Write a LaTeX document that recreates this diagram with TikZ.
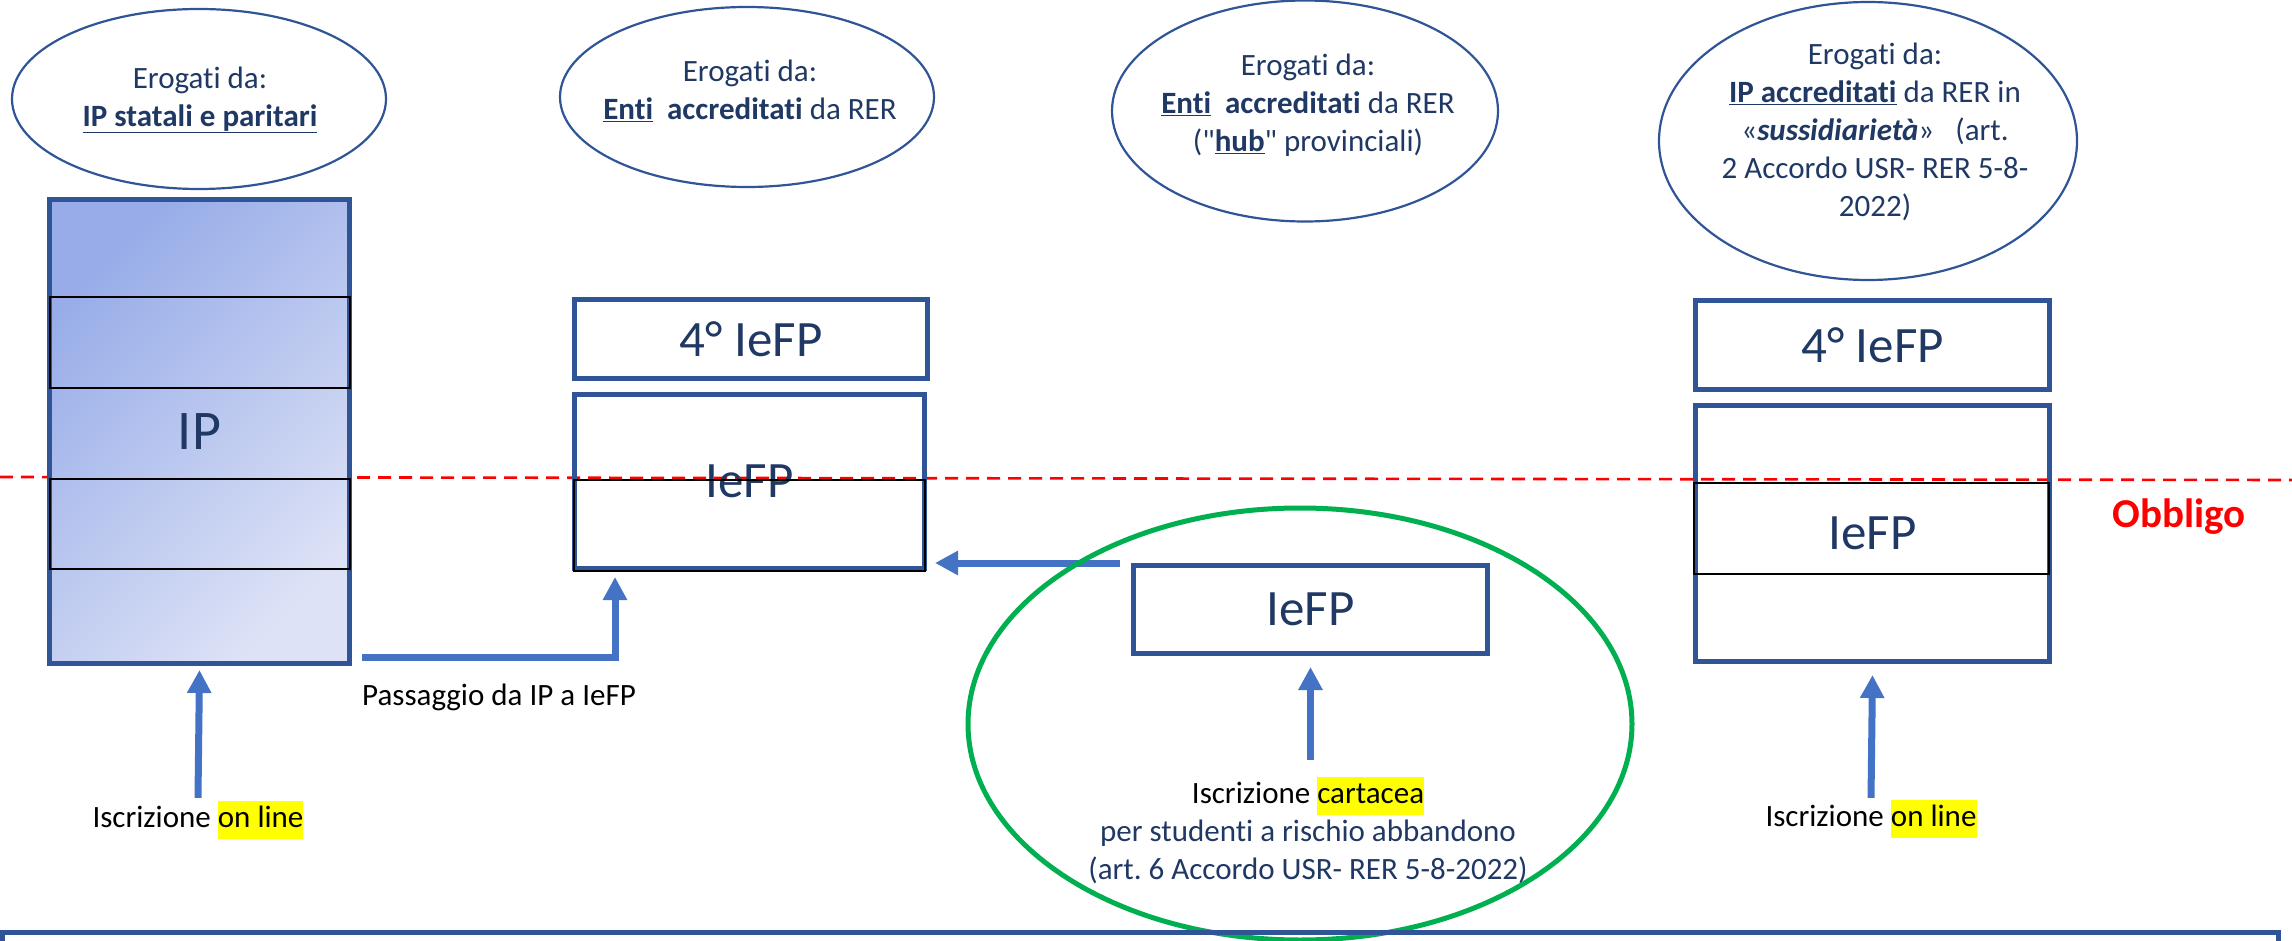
\documentclass[tikz,border=0pt]{standalone}
\usepackage{fontspec}
\setmainfont{Carlito}[Ligatures=NoCommon]
\newfontfamily\dritto{Carlito}[Ligatures=NoCommon]
\usepackage{tikz}
\usetikzlibrary{shapes.geometric,positioning,arrows.meta}
\definecolor{bordo}{HTML}{2F5597}
\definecolor{navy}{HTML}{203864}
\definecolor{azzurro}{HTML}{4472C4}
\definecolor{verde}{HTML}{00B050}
\definecolor{giallo}{HTML}{FFFF00}
\definecolor{ipscuro}{HTML}{97ACE8}
\definecolor{ipchiaro}{HTML}{DDE2F6}
\newcommand{\evid}[1]{{\setlength{\fboxsep}{0pt}\colorbox{giallo}{\strut #1}}}
\newcommand{\virg}{{\dritto"}}
\frenchspacing

\begin{document}
\begin{tikzpicture}[x=1pt,y=-1pt,>={Triangle[length=23pt,width=23pt]},
    bolla/.style={ellipse,draw=bordo,line width=2.2pt,inner sep=0pt},
    testo/.style={text=navy,align=center,inner sep=0pt,font=\fontsize{31}{38}\selectfont},
    scatola/.style={rectangle,draw=bordo,line width=5pt,inner sep=0pt,text=navy,font=\fontsize{51}{60}\selectfont},
    riga/.style={draw=black,line width=2pt},
    passo/.style={->,draw=azzurro,line width=7pt},
    nota/.style={inner sep=0pt,align=center,font=\fontsize{31}{38}\selectfont}]
  \useasboundingbox (0,0) rectangle (2292,941);
  \draw[red,line width=2.6pt,dash pattern=on 13pt off 8pt] (0,477) -- (2292,480);

  \node[bolla,minimum width=374pt,minimum height=180pt] (b1) at (199,99) {};
  \node[testo] at (200,100) {Erogati da:\\\underline{\textbf{IP statali e paritari}}};
  \node[bolla,minimum width=374pt,minimum height=180pt] (b2) at (747,97) {};
  \node[testo] at (750,91) {Erogati da:\\\underline{\textbf{Enti}}\ \ \textbf{accreditati} da RER};
  \node[bolla,minimum width=386pt,minimum height=221pt] (b3) at (1305,111) {};
  \node[testo] at (1308,105) {Erogati da:\\\underline{\textbf{Enti}}\ \ \textbf{accreditati} da RER\\
    (\virg\underline{\textbf{hub}}\virg{} provinciali)};
  \node[bolla,minimum width=418pt,minimum height=278pt] (b4) at (1868,141) {};
  \node[testo] at (1875,132) {Erogati da:\\\underline{\textbf{IP accreditati}} da RER in\\
    «\textbf{\textit{sussidiarietà}}»\ \ \ (art.\\2 Accordo USR- RER 5-8-\\2022)};

  \node[scatola,minimum width=300pt,minimum height=464pt,top color=ipscuro,bottom color=ipchiaro,
    shading angle=45,font=\fontsize{56}{64}\selectfont] (ip) at (199.5,431.5) {IP};
  \draw[riga] (50,297) rectangle (350,388); \draw[riga] (50,479) rectangle (350,569);

  \node[scatola,minimum width=353pt,minimum height=79pt] (q1) at (751,339) {4° IeFP};
  \node[scatola,minimum width=350pt,minimum height=174pt] (f1) at (749.5,481.5) {IeFP};
  \draw[riga] (574,480) rectangle (925,571);

  \node[scatola,minimum width=354pt,minimum height=89pt] (q2) at (1872.5,345) {4° IeFP};
  \node[scatola,minimum width=354pt,minimum height=256pt] (f2) at (1872.5,533.5) {IeFP};
  \draw[riga] (1694,483) rectangle (2049,574);

  \node[scatola,minimum width=354pt,minimum height=88pt] (f3) at (1310.5,609.5) {IeFP};
  \node[text=red,font=\bfseries\fontsize{41}{48}\selectfont] (obb) at (2179,517) {Obbligo};

  \node[nota] (s1) at (198,820) {Iscrizione \evid{on line}};
  \node[nota,anchor=west] (s2) at (362,697) {Passaggio da IP a IeFP};
  \node[nota] (s3) at (1308,830) {Iscrizione \evid{cartacea}\\\textcolor{navy}{per studenti a rischio abbandono}\\
    \textcolor{navy}{(art. 6 Accordo USR- RER 5-8-2022)}};
  \node[nota] (s4) at (1871,819) {Iscrizione \evid{on line}};

  \path (f1.east |- f3.north) ++(8,0) coordinate (p1);
  \draw[passo] ([yshift=3]s1.north) -- ([yshift=-4]ip.south);
  \draw[passo] ([shift={(10,-9)}]ip.south east) -| ([shift={(43,6)}]f1.south west);
  \draw[passo] ([xshift=-11]f3.north west) -- (p1);
  \draw[passo] ([yshift=16]s3.north -| f3.south) -- ([yshift=-11]f3.south);
  \draw[passo] ([yshift=2]s4.north) -- ([yshift=-11]f2.south);

  \draw[verde,line width=5pt] (1300,724) ellipse [x radius=332pt,y radius=216pt];
  \node[scatola,minimum width=2276pt,minimum height=100pt,anchor=north west] (fondo) at (0,930) {};
\end{tikzpicture}
\end{document}
